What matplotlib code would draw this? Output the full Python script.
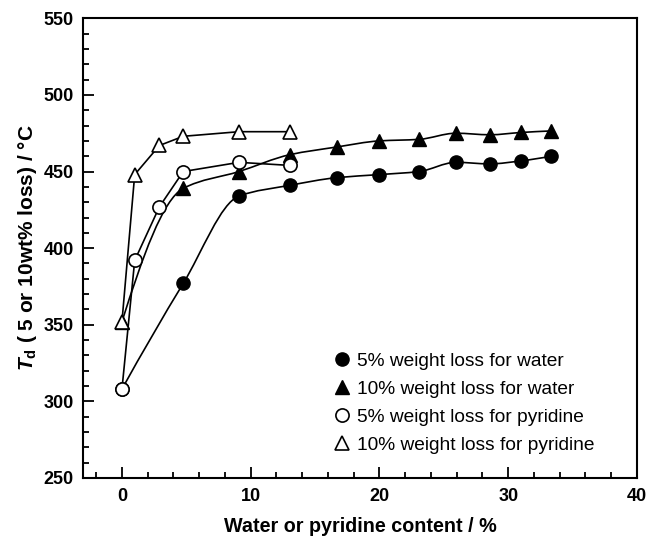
import numpy as np
import matplotlib
matplotlib.use("Agg")
import matplotlib.pyplot as plt
from matplotlib.path import Path
from matplotlib.patches import PathPatch
from matplotlib.lines import Line2D

plt.rcParams['font.family'] = ['Liberation Sans', 'DejaVu Sans']
plt.rcParams['mathtext.fontset'] = 'custom'
plt.rcParams['mathtext.it'] = 'Liberation Sans:italic:bold'
plt.rcParams['mathtext.rm'] = 'Liberation Sans:bold'

# data
water_x = [0, 4.76, 9.09, 13.04, 16.67, 20.0, 23.08, 25.93, 28.57, 31.03, 33.33]
water_5 = [308, 377, 434, 441, 446, 448, 450, 456, 455, 457, 460]
water_10 = [352, 439, 450, 461, 466, 470, 471, 475, 474, 475.5, 476.5]
pyr_x = [0, 0.99, 2.91, 4.76, 9.09, 13.04]
pyr_5 = [308, 392, 427, 450, 456, 454]
pyr_10 = [352, 448, 467, 473, 476, 476]

labels = ["5% weight loss for water", "10% weight loss for water",
          "5% weight loss for pyridine", "10% weight loss for pyridine"]


def pchip_path(x, y):
    x = np.asarray(x, float); y = np.asarray(y, float)
    h = np.diff(x); d = np.diff(y) / h
    n = len(x)
    m = np.zeros(n)
    for k in range(1, n - 1):
        if d[k - 1] * d[k] <= 0:
            m[k] = 0
        else:
            w1 = 2 * h[k] + h[k - 1]; w2 = h[k] + 2 * h[k - 1]
            m[k] = (w1 + w2) / (w1 / d[k - 1] + w2 / d[k])
    def endslope(h0, h1, d0, d1):
        s = ((2 * h0 + h1) * d0 - h0 * d1) / (h0 + h1)
        if np.sign(s) != np.sign(d0):
            s = 0
        elif np.sign(d0) != np.sign(d1) and abs(s) > abs(3 * d0):
            s = 3 * d0
        return s
    m[0] = endslope(h[0], h[1], d[0], d[1])
    m[-1] = endslope(h[-1], h[-2], d[-1], d[-2])
    verts = [(x[0], y[0])]; codes = [Path.MOVETO]
    for k in range(n - 1):
        verts += [(x[k] + h[k] / 3, y[k] + m[k] * h[k] / 3),
                  (x[k + 1] - h[k] / 3, y[k + 1] - m[k + 1] * h[k] / 3),
                  (x[k + 1], y[k + 1])]
        codes += [Path.CURVE4] * 3
    return Path(verts, codes)


fig = plt.figure(figsize=(6.49, 5.37), dpi=100)
ax = fig.add_axes([0.1284, 0.1099, 0.8531, 0.8560])

lw = 1.2
ms = 9.5
# smoothed lines for water series
for yv in (water_5, water_10):
    ax.add_patch(PathPatch(pchip_path(water_x, yv), fill=False, edgecolor='black', lw=lw, zorder=2))
ax.plot(pyr_x, pyr_5, '-', color='black', lw=lw, zorder=2)
ax.plot(pyr_x, pyr_10, '-', color='black', lw=lw, zorder=2)

ax.plot(water_x, water_5, 'o', ls='none', mfc='black', mec='black', ms=ms, zorder=3)
ax.plot(water_x, water_10, '^', ls='none', mfc='black', mec='black', ms=ms, zorder=3)
ax.plot(pyr_x, pyr_5, 'o', ls='none', mfc='white', mec='black', mew=1.2, ms=ms, zorder=4)
ax.plot(pyr_x, pyr_10, '^', ls='none', mfc='white', mec='black', mew=1.2, ms=ms, zorder=4)

ax.set_xlim(-3, 40)
ax.set_ylim(250, 550)
ax.set_xticks([0, 10, 20, 30, 40])
ax.set_xticks(np.arange(-2, 40, 2), minor=True)
ax.set_yticks(np.arange(250, 551, 50))
ax.set_yticks(np.arange(250, 551, 10), minor=True)
ax.tick_params(which='both', direction='in', top=False, right=False, width=1.3)
ax.tick_params(which='major', length=8, labelsize=13, pad=7)
ax.tick_params(which='minor', length=4.5)
for lab in ax.get_xticklabels() + ax.get_yticklabels():
    lab.set_fontweight('bold')
for s in ax.spines.values():
    s.set_linewidth(1.5)

ax.set_xlabel('Water or pyridine content / %', fontsize=14.2, fontweight='bold', labelpad=9)
ax.set_ylabel(r'$T_{\mathrm{d}}$ ( 5 or 10wt% loss) / °C', fontsize=15, fontweight='bold', labelpad=3)

handles = [
    Line2D([], [], ls='none', marker='o', mfc='black', mec='black', ms=ms),
    Line2D([], [], ls='none', marker='^', mfc='black', mec='black', ms=ms),
    Line2D([], [], ls='none', marker='o', mfc='white', mec='black', mew=1.2, ms=ms),
    Line2D([], [], ls='none', marker='^', mfc='white', mec='black', mew=1.2, ms=ms),
]
ax.legend(handles, labels, loc='upper left', bbox_to_anchor=(0.439, 0.29), frameon=False,
          fontsize=13.8, handlelength=0.8, handletextpad=0.4, labelspacing=0.55,
          borderaxespad=0)

fig.savefig('out.png', dpi=100)
